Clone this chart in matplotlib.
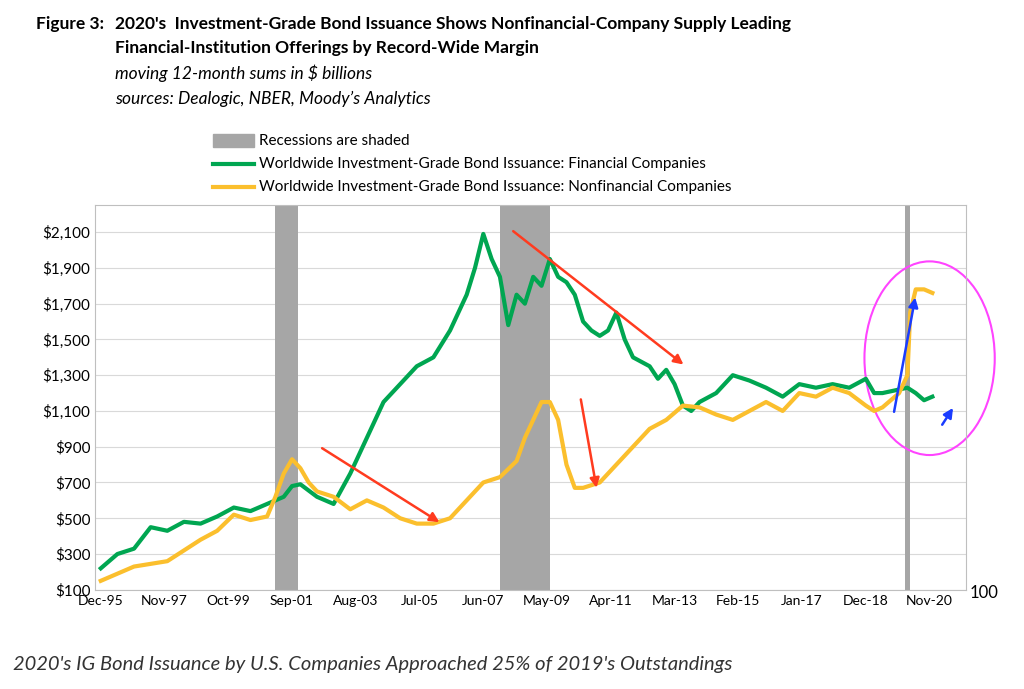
import matplotlib
matplotlib.use("Agg")
import matplotlib.pyplot as plt
from matplotlib.patches import Ellipse
import pandas as pd

plt.rcParams['font.family'] = ['Lato', 'DejaVu Sans']

START = pd.Timestamp("1995-12-01")

fin_dates = ["1995-12", "1996-06", "1996-12", "1997-06", "1997-12", "1998-06", "1998-12",
             "1999-06", "1999-12", "2000-06", "2000-12", "2001-06", "2001-09", "2001-12",
             "2002-06", "2002-12", "2003-06", "2003-12", "2004-06", "2004-12", "2005-06",
             "2005-12", "2006-06", "2006-12", "2007-03", "2007-06", "2007-09", "2007-12",
             "2008-03", "2008-06", "2008-09", "2008-12", "2009-03", "2009-06", "2009-09",
             "2009-12", "2010-03", "2010-06", "2010-09", "2010-12", "2011-03", "2011-06",
             "2011-09", "2011-12", "2012-06", "2012-09", "2012-12", "2013-03", "2013-06",
             "2013-09", "2013-12", "2014-06", "2014-12", "2015-06", "2015-12", "2016-06",
             "2016-12", "2017-06", "2017-12", "2018-06", "2018-12", "2019-03", "2019-06",
             "2019-12", "2020-03", "2020-06", "2020-09", "2020-12"]
fin_vals = [220, 300, 330, 450, 430, 480, 470, 510, 560, 540, 580, 620, 680, 690,
            620, 580, 750, 950, 1150, 1250, 1350, 1400, 1550, 1750, 1900, 2090, 1950, 1850,
            1580, 1750, 1700, 1850, 1800, 1950, 1850, 1820, 1750, 1600, 1550, 1520, 1550, 1650,
            1500, 1400, 1350, 1280, 1330, 1250, 1130, 1100, 1150, 1200, 1300, 1270, 1230, 1180,
            1250, 1230, 1250, 1230, 1280, 1200, 1200, 1220, 1230, 1200, 1160, 1180]

nonfin_dates = ["1995-12", "1996-12", "1997-12", "1998-06", "1998-12", "1999-06", "1999-12",
                "2000-06", "2000-12", "2001-03", "2001-06", "2001-09", "2001-12", "2002-03",
                "2002-06", "2002-12", "2003-06", "2003-12", "2004-06", "2004-12", "2005-06",
                "2005-12", "2006-06", "2006-12", "2007-06", "2007-12", "2008-06", "2008-09",
                "2008-12", "2009-03", "2009-06", "2009-09", "2009-12", "2010-03", "2010-06",
                "2010-12", "2011-06", "2011-12", "2012-06", "2012-12", "2013-06", "2013-12",
                "2014-06", "2014-12", "2015-06", "2015-12", "2016-06", "2016-12", "2017-06",
                "2017-12", "2018-06", "2018-12", "2019-03", "2019-06", "2019-12", "2020-03",
                "2020-04", "2020-06", "2020-09", "2020-12"]
nonfin_vals = [150, 230, 260, 320, 380, 430, 520, 490, 510, 620, 750, 830, 780, 700,
               650, 620, 550, 600, 560, 500, 470, 470, 500, 600, 700, 730, 820, 950,
               1050, 1150, 1150, 1050, 800, 670, 670, 700, 800, 900, 1000, 1050, 1130, 1120,
               1080, 1050, 1100, 1150, 1100, 1200, 1180, 1230, 1200, 1130, 1100, 1120, 1200, 1300,
               1650, 1780, 1780, 1760]

recessions = [("2001-03", "2001-11"), ("2007-12", "2009-06"), ("2020-02", "2020-04")]
tick_labels = ["Dec-95", "Nov-97", "Oct-99", "Sep-01", "Aug-03", "Jul-05", "Jun-07",
               "May-09", "Apr-11", "Mar-13", "Feb-15", "Jan-17", "Dec-18", "Nov-20"]


def mi(s):
    """month index from Dec-95"""
    d = pd.Timestamp(s)
    return (d.year - START.year) * 12 + d.month - START.month


fig = plt.figure(figsize=(10.24, 6.89), dpi=100)
ax = fig.add_axes([0.093, 0.144, 0.85, 0.558])

for a, b in recessions:
    ax.axvspan(mi(a), mi(b), color="#a6a6a6", lw=0)

ax.plot([mi(d) for d in fin_dates], fin_vals, color="#00a651", lw=3)
ax.plot([mi(d) for d in nonfin_dates], nonfin_vals, color="#fbbf2d", lw=3)

ax.set_ylim(100, 2250)
ax.set_xlim(-2, 312)
ax.set_yticks(range(100, 2101, 200))
ax.set_yticklabels([f"${v:,}" for v in range(100, 2101, 200)], fontsize=11)
ax.set_xticks([23 * i for i in range(len(tick_labels))])
ax.set_xticklabels(tick_labels, fontsize=10)
ax.grid(axis="y", color="#d9d9d9", lw=0.8)
ax.set_axisbelow(True)
ax.tick_params(length=0)
for sp in ax.spines.values():
    sp.set_color("#bfbfbf")

# arrows
red = dict(arrowstyle="-|>", color="#ff3b1f", lw=1.8, mutation_scale=14)
blue = dict(arrowstyle="-|>", color="#1a3cff", lw=1.8, mutation_scale=14)
ax.annotate("", xy=(mi("2006-03"), 470), xytext=(mi("2002-07"), 900), arrowprops=red)
ax.annotate("", xy=(mi("2013-07"), 1350), xytext=(mi("2008-04"), 2115), arrowprops=red)
ax.annotate("", xy=(mi("2010-11"), 655), xytext=(mi("2010-05"), 1180), arrowprops=red)
ax.annotate("", xy=(mi("2020-06"), 1750), xytext=(mi("2019-10"), 1080), arrowprops=blue)
ax.annotate("", xy=(mi("2021-08"), 1130), xytext=(mi("2021-03"), 1010), arrowprops=blue,
            annotation_clip=False)
ell = Ellipse((mi("2020-11"), 1395), 47, 1083, fill=False, ec="#ff44ff", lw=1.5, clip_on=False)
ax.add_patch(ell)

fig.text(0.975, 0.14, "100", fontsize=12, ha="right", va="center")

# legend
lx, ly = 0.208, 0.795
fig.patches.append(plt.Rectangle((lx, ly - 0.008), 0.04, 0.018, transform=fig.transFigure,
                                 color="#a6a6a6"))
fig.text(lx + 0.045, ly, "Recessions are shaded", fontsize=11, va="center")
fig.lines.append(plt.Line2D([lx, lx + 0.04], [ly - 0.033] * 2, transform=fig.transFigure,
                            color="#00a651", lw=3))
fig.text(lx + 0.045, ly - 0.033, "Worldwide Investment-Grade Bond Issuance: Financial Companies",
         fontsize=11, va="center")
fig.lines.append(plt.Line2D([lx, lx + 0.04], [ly - 0.066] * 2, transform=fig.transFigure,
                            color="#fbbf2d", lw=3))
fig.text(lx + 0.045, ly - 0.066, "Worldwide Investment-Grade Bond Issuance: Nonfinancial Companies",
         fontsize=11, va="center")

# titles
fig.text(0.035, 0.965, "Figure 3:", fontsize=12.5, fontweight="bold", va="center")
fig.text(0.112, 0.965, "2020's  Investment-Grade Bond Issuance Shows Nonfinancial-Company Supply Leading",
         fontsize=12.5, fontweight="bold", va="center")
fig.text(0.112, 0.930, "Financial-Institution Offerings by Record-Wide Margin",
         fontsize=12.5, fontweight="bold", va="center")
fig.text(0.112, 0.893, "moving 12-month sums in $ billions", fontsize=12.5, style="italic", va="center")
fig.text(0.112, 0.856, "sources: Dealogic, NBER, Moody\u2019s Analytics", fontsize=12.5,
         style="italic", va="center")
fig.text(0.013, 0.035, "2020's IG Bond Issuance by U.S. Companies Approached 25% of 2019's Outstandings",
         fontsize=14.5, style="italic", va="center", color="#333333")

fig.savefig("out.png", dpi=100)
